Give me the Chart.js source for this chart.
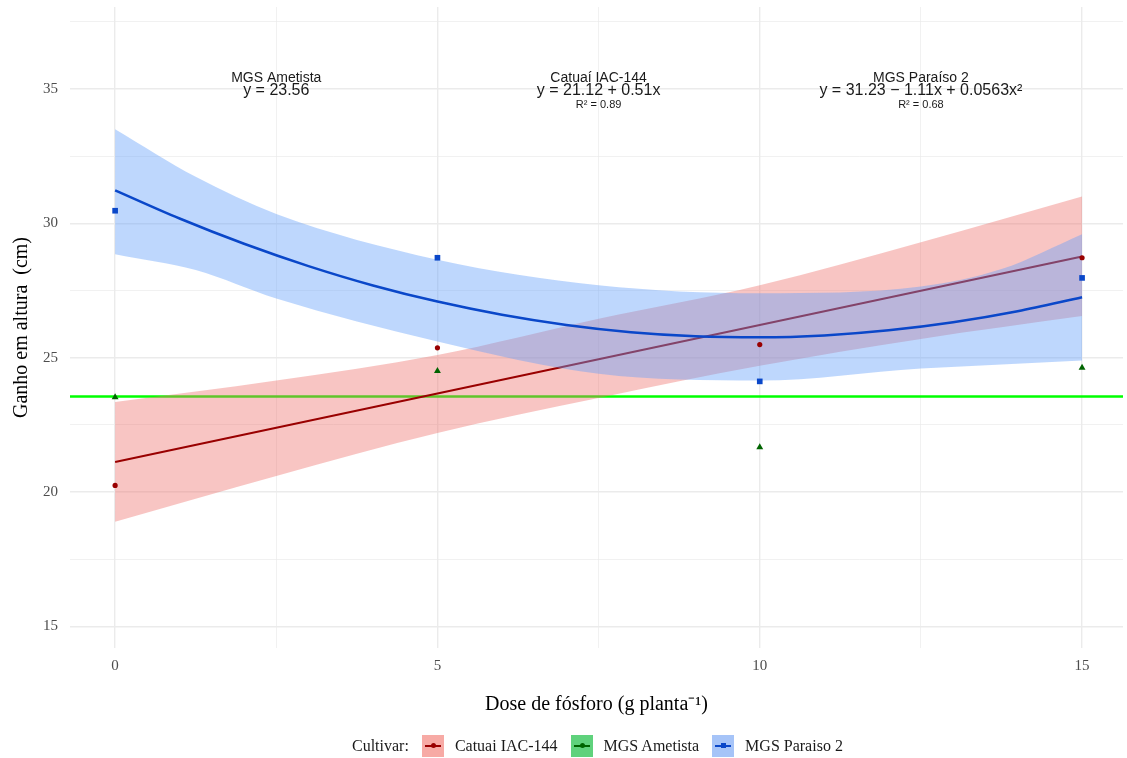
<!DOCTYPE html>
<html>
<head>
<meta charset="utf-8">
<script src="https://cdn.jsdelivr.net/npm/chart.js@4.4.0/dist/chart.umd.min.js"></script>
<style>
  body { margin: 0; background: #fff; overflow: hidden; }
  #wrap { position: relative; width: 1127px; height: 758px; }
  #myChart { display: block; }
  #legend {
    position: absolute; left: 352px; top: 734px; height: 24px;
    display: flex; align-items: center;
    font-family: "Liberation Serif", serif; font-size: 16px; color: #1a1a1a;
  }
  .key { position: relative; width: 22px; height: 22px; margin: 0 11px 0 13px; }
  .key .ln { position: absolute; left: 3px; right: 3px; top: 10px; height: 2px; }
  .key .pt { position: absolute; left: 9px; top: 8px; width: 5px; height: 5px; border-radius: 50%; }
</style>
</head>
<body>
<div id="wrap">
  <canvas id="myChart" width="1127" height="758"></canvas>
  <div id="legend">
    <span>Cultivar:</span>
    <div class="key" style="background:#f7aaa5"><div class="ln" style="background:#990000"></div><div class="pt" style="background:#990000"></div></div>
    <span>Catuai IAC-144</span>
    <div class="key" style="background:#5fd27c"><div class="ln" style="background:#006400"></div><div class="pt" style="background:#006400"></div></div>
    <span>MGS Ametista</span>
    <div class="key" style="background:#a6c4f8"><div class="ln" style="background:#0a47c9"></div><div class="pt" style="background:#0a47c9;border-radius:0"></div></div>
    <span>MGS Paraiso 2</span>
  </div>
</div>
<script>
// dados observados (médias por dose)
const doses = [0, 5, 10, 15];
const catuaiObs = [20.25, 25.37, 25.49, 28.72];
const ametistaObs = [23.53, 24.51, 21.67, 24.63];
const paraisoObs = [30.47, 28.72, 24.12, 27.97];

// curvas ajustadas
const catuaiFitX = [0, 15];
const catuaiFit = [21.12, 28.77];
const ametistaFitX = [-0.7, 15.7];
const ametistaFit = [23.56, 23.56];
const paraisoFitX = [0, 1, 2, 3, 4, 5, 6, 7, 8, 9, 10, 11, 12, 13, 14, 15];
const paraisoFit = [31.23, 30.18, 29.24, 28.41, 27.69, 27.09, 26.60, 26.22, 25.95, 25.80, 25.76, 25.83, 26.02, 26.32, 26.73, 27.25];

// intervalos de confiança
const catuaiBandX = [0, 2.5, 5, 7.5, 10, 12.5, 15];
const catuaiUpper = [23.35, 24.15, 25.1, 26.45, 27.7, 29.3, 31.0];
const catuaiLower = [18.9, 20.6, 22.2, 23.5, 24.7, 25.7, 26.55];
const paraisoBandX = [0, 1.25, 2.5, 5, 7.5, 10, 12.5, 13.75, 15];
const paraisoUpper = [33.5, 31.73, 30.35, 28.65, 27.7, 27.4, 27.65, 28.3, 29.6];
const paraisoLower = [28.85, 28.26, 27.2, 25.6, 24.4, 24.15, 24.6, 24.75, 24.9];

// eixos
const xTicks = [0, 5, 10, 15];
const xMinor = [2.5, 7.5, 12.5];
const yTicks = [15, 20, 25, 30, 35];
const yMinor = [17.5, 22.5, 27.5, 32.5, 37.5];

// equações
const eqTitles = ['MGS Ametista', 'Catuaí IAC-144', 'MGS Paraíso 2'];
const eqTexts = ['y = 23.56', 'y = 21.12 + 0.51x', 'y = 31.23 \u2212 1.11x + 0.0563x\u00b2'];
const eqR2 = ['', 'R\u00b2 = 0.89', 'R\u00b2 = 0.68'];
const eqPosX = [2.5, 7.5, 12.5];

const pts = (xs, ys) => xs.map((x, i) => ({ x: x, y: ys[i] }));

const RED = '#990000', GREEN = '#006400', BLUE = '#0a47c9';

const eqPlugin = {
  id: 'eqLabels',
  afterDatasetsDraw(chart) {
    const { ctx, scales: { x, y } } = chart;
    ctx.save();
    ctx.textAlign = 'center';
    ctx.textBaseline = 'middle';
    ctx.fillStyle = '#1a1a1a';
    eqTitles.forEach((t, i) => {
      const px = x.getPixelForValue(eqPosX[i]);
      ctx.font = '14px "Liberation Sans", Arial, sans-serif';
      ctx.fillText(t, px, y.getPixelForValue(35.42));
      ctx.font = '16px "Liberation Sans", Arial, sans-serif';
      ctx.fillText(eqTexts[i], px, y.getPixelForValue(34.94));
      if (eqR2[i]) {
        ctx.font = '11px "Liberation Sans", Arial, sans-serif';
        ctx.fillText(eqR2[i], px, y.getPixelForValue(34.4));
      }
    });
    ctx.restore();
  }
};

const lineDs = (label, xs, ys, color, width, order) => ({
  label, data: pts(xs, ys), showLine: true, borderColor: color, borderWidth: width,
  pointRadius: 0, fill: false, order, tension: 0, cubicInterpolationMode: 'monotone'
});

const bandDs = (label, xs, ys, color, fill, order) => ({
  label, data: pts(xs, ys), showLine: true, borderWidth: 0, borderColor: 'transparent',
  backgroundColor: color, pointRadius: 0, fill, order, cubicInterpolationMode: 'monotone'
});

// sem folga extra nas bordas da área do gráfico
const noPad = s => { s.paddingTop = 0; s.paddingBottom = 0; s.paddingLeft = 0; s.paddingRight = 0; };

const ctx = document.getElementById('myChart').getContext('2d');
const chart = new Chart(ctx, {
  type: 'scatter',
  data: {
    datasets: [
      bandDs('catuaiUp', catuaiBandX, catuaiUpper, 'rgba(238,110,105,0.4)', '+1', 6),
      bandDs('catuaiLo', catuaiBandX, catuaiLower, 'transparent', false, 6),
      bandDs('paraisoUp', paraisoBandX, paraisoUpper, 'rgba(100,160,250,0.42)', '+1', 4),
      bandDs('paraisoLo', paraisoBandX, paraisoLower, 'transparent', false, 4),
      lineDs('ametistaFit', ametistaFitX, ametistaFit, '#00ff00', 2.5, 7),
      lineDs('catuaiFit', catuaiFitX, catuaiFit, RED, 2, 5),
      lineDs('paraisoFit', paraisoFitX, paraisoFit, BLUE, 2.5, 3),
      { label: 'Catuaí', data: pts(doses, catuaiObs), pointStyle: 'circle', pointRadius: 2.6,
        backgroundColor: RED, borderColor: RED, borderWidth: 0, order: 0 },
      { label: 'Ametista', data: pts(doses, ametistaObs), pointStyle: 'triangle', pointRadius: 4,
        backgroundColor: GREEN, borderColor: GREEN, borderWidth: 0, order: 1 },
      { label: 'Paraíso', data: pts(doses, paraisoObs), pointStyle: 'rect', pointRadius: 4,
        backgroundColor: BLUE, borderColor: BLUE, borderWidth: 0, order: 2 }
    ]
  },
  options: {
    responsive: false,
    animation: false,
    layout: { padding: { top: 7, right: 0, left: 0, bottom: 0 } },
    plugins: {
      legend: { display: false },
      tooltip: { enabled: false }
    },
    scales: {
      x: {
        type: 'linear', min: -0.7, max: 15.635,
        afterBuildTicks: s => { s.ticks = [...xTicks, ...xMinor].sort((a, b) => a - b).map(v => ({ value: v })); },
        afterFit: s => { s.height = 110; noPad(s); },
        ticks: {
          callback: v => xTicks.includes(v) ? String(v) : '',
          autoSkip: false, maxRotation: 0, padding: 9,
          color: '#4d4d4d', font: { family: '"Liberation Serif", serif', size: 15 }
        },
        grid: {
          color: '#ebebeb', drawTicks: false,
          lineWidth: c => xTicks.includes(c.tick && c.tick.value) ? 1.4 : 0.7
        },
        border: { display: false },
        title: {
          display: true, text: 'Dose de fósforo (g planta\u207b\u00b9)', color: '#000',
          font: { family: '"Liberation Serif", serif', size: 20 }, padding: { top: 0, bottom: 41 }
        }
      },
      y: {
        type: 'linear', min: 14.2, max: 38.05,
        afterBuildTicks: s => { s.ticks = [...yTicks, ...yMinor].sort((a, b) => a - b).map(v => ({ value: v })); },
        afterFit: s => { s.width = 70; noPad(s); },
        ticks: {
          callback: v => yTicks.includes(v) ? String(v) : '',
          autoSkip: false, padding: 12,
          color: '#4d4d4d', font: { family: '"Liberation Serif", serif', size: 15 }
        },
        grid: {
          color: '#ebebeb', drawTicks: false,
          lineWidth: c => yTicks.includes(c.tick && c.tick.value) ? 1.4 : 0.7
        },
        border: { display: false },
        title: {
          display: true, text: 'Ganho em altura  (cm)', color: '#000',
          font: { family: '"Liberation Serif", serif', size: 20 }, padding: { top: 10, bottom: 0 }
        }
      }
    }
  },
  plugins: [eqPlugin]
});
</script>
</body>
</html>
